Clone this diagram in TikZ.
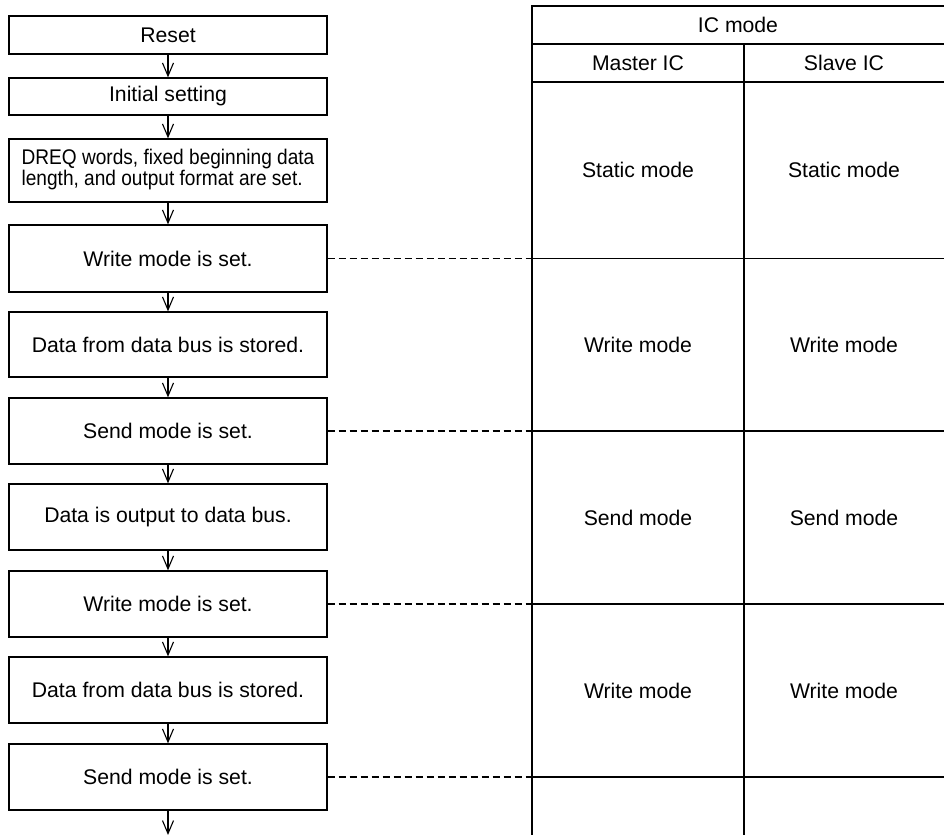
\documentclass[tikz,border=0pt]{standalone}
\usepackage{fontspec}
\setmainfont{Liberation Sans}
\usepackage{graphicx}
\usetikzlibrary{arrows.meta}
\newcommand\fs{\fontsize{10.6}{12}\selectfont}
\begin{document}
\begin{tikzpicture}[x=0.5pt,y=-0.5pt,
 stepbox/.style={draw, line width=0.65pt, minimum width=159pt, inner sep=0pt, align=center, font=\fs},
 flow/.style={-{Straight Barb[length=6.5pt,width=5.5pt,line width=0.55pt]}, line width=0.55pt},
 link/.style={dash pattern=on 3.5pt off 2pt, line width=0.65pt},
 grid/.style={line width=0.65pt},
 cell/.style={font=\fs, inner sep=0pt}]
\useasboundingbox (0,0) rectangle (944,835);
% flow chart
\node[stepbox, minimum height=19pt] (reset) at (168,35) {Reset};
\node[stepbox, minimum height=18.5pt] (init) at (168,96.5) {Initial setting};
\node[stepbox, minimum height=31.5pt] (dreq) at (168,170.5) {\scalebox{0.9}[1]{\fontsize{10.6}{10.8}\selectfont\begin{tabular}{@{}l@{}}DREQ words, fixed beginning data\\length, and output format are set.\end{tabular}}};
\node[stepbox, minimum height=33.5pt] (w1) at (168,258.5) {Write mode is set.};
\node[stepbox, minimum height=32.5pt] (d1) at (168,344.5) {Data from data bus is stored.};
\node[stepbox, minimum height=33pt] (s1) at (168,431) {Send mode is set.};
\node[stepbox, minimum height=33pt] (d2) at (168,517) {Data is output to data bus.};
\node[stepbox, minimum height=33pt] (w2) at (168,604) {Write mode is set.};
\node[stepbox, minimum height=33pt] (d3) at (168,690) {Data from data bus is stored.};
\node[stepbox, minimum height=33pt] (s2) at (168,777) {Send mode is set.};
\coordinate (end) at (168,835);
\draw[flow] (reset) -- (init);
\draw[flow] (init) -- (dreq);
\draw[flow] (dreq) -- (w1);
\draw[flow] (w1) -- (d1);
\draw[flow] (d1) -- (s1);
\draw[flow] (s1) -- (d2);
\draw[flow] (d2) -- (w2);
\draw[flow] (w2) -- (d3);
\draw[flow] (d3) -- (s2);
\draw[flow] (s2.south) -- (end);
% table
\draw[grid] (532,835) -- (532,6) -- (944,6);
\draw[grid] (532,44) -- (944,44);
\draw[grid] (532,82) -- (944,82);
\draw[grid] (744,44) -- (744,835);
\foreach \yy/\nm in {258.5/t1,431/t2,604/t3,777/t4}{
  \draw[grid] (532,\yy) -- (944,\yy);
  \coordinate (\nm) at (532,\yy);
}
\draw[link] (w1.east) -- (t1);
\draw[link] (s1.east) -- (t2);
\draw[link] (w2.east) -- (t3);
\draw[link] (s2.east) -- (t4);
\node[cell] (icm) at (738,25) {IC mode};
\node[cell] (mic) at (638,63) {Master IC};
\node[cell] (sic) at (844,63) {Slave IC};
\node[cell] (m1) at (638,170) {Static mode};
\node[cell] (s1c) at (844,170) {Static mode};
\node[cell] (m2) at (638,344.5) {Write mode};
\node[cell] (s2c) at (844,344.5) {Write mode};
\node[cell] (m3) at (638,517.5) {Send mode};
\node[cell] (s3c) at (844,517.5) {Send mode};
\node[cell] (m4) at (638,690.5) {Write mode};
\node[cell] (s4c) at (844,690.5) {Write mode};
\end{tikzpicture}
\end{document}
